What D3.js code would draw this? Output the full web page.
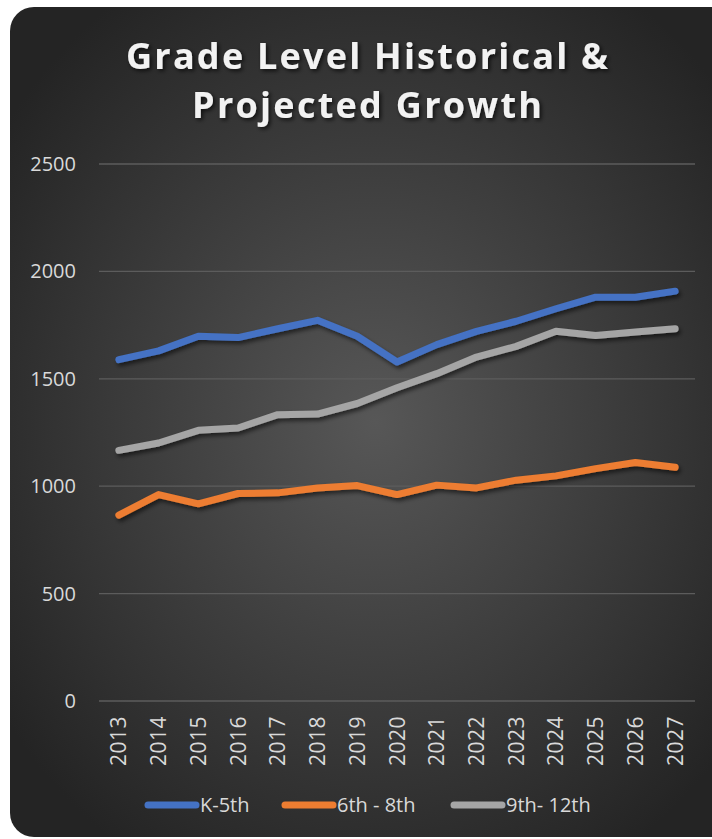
<!DOCTYPE html>
<html>
<head>
<meta charset="utf-8">
<script src="https://cdn.jsdelivr.net/npm/d3@7"></script>
<style>
  body { margin: 0; background: #fff; }
  svg { display: block; }
</style>
</head>
<body>
<div id="chart"></div>
<script>
// data
const years = ["2013","2014","2015","2016","2017","2018","2019","2020","2021","2022","2023","2024","2025","2026","2027"];
const k5    = [1589, 1630, 1698, 1692, 1733, 1772, 1698, 1578, 1659, 1721, 1768, 1826, 1880, 1880, 1908];
const g68   = [865, 961, 918, 966, 969, 992, 1003, 961, 1005, 992, 1028, 1048, 1082, 1110, 1088];
const g912  = [1167, 1201, 1260, 1271, 1333, 1336, 1385, 1458, 1524, 1601, 1651, 1721, 1702, 1718, 1733];
const yTicks = [0, 500, 1000, 1500, 2000, 2500];

const seriesList = [
    { name: "K-5th", values: k5, color: "#4472C4" },
    { name: "6th - 8th", values: g68, color: "#ED7D31" },
    { name: "9th- 12th", values: g912, color: "#A5A5A5" }
];

const W = 712, H = 839;
const margin = { top: 164, right: 17, bottom: 138, left: 99 };

const svg = d3.select("#chart").append("svg")
    .attr("width", W)
    .attr("height", H);

const defs = svg.append("defs");
const grad = defs.append("radialGradient")
    .attr("id", "bg")
    .attr("cx", "50%").attr("cy", "50%").attr("r", "62%");
grad.append("stop").attr("offset", "0%").attr("stop-color", "#575757");
grad.append("stop").attr("offset", "100%").attr("stop-color", "#242424");

const shadow = defs.append("filter").attr("id", "shadow")
    .attr("x", "-10%").attr("y", "-20%").attr("width", "120%").attr("height", "150%");
shadow.append("feDropShadow")
    .attr("dx", 2).attr("dy", 3).attr("stdDeviation", 2)
    .attr("flood-color", "#000").attr("flood-opacity", 0.55);

const tshadow = defs.append("filter").attr("id", "tshadow");
tshadow.append("feDropShadow")
    .attr("dx", 2).attr("dy", 2).attr("stdDeviation", 2)
    .attr("flood-color", "#000").attr("flood-opacity", 0.7);

// panel
svg.append("rect")
    .attr("x", 10).attr("y", 7)
    .attr("width", 730).attr("height", 830)
    .attr("rx", 24).attr("ry", 24)
    .attr("fill", "url(#bg)");

// title
const title = svg.append("text")
    .attr("text-anchor", "middle")
    .style("font-family", "'Open Sans', sans-serif")
    .style("font-weight", "bold")
    .style("font-size", "36px")
    .style("fill", "#f2f2f2")
    .attr("filter", "url(#tshadow)");
title.append("tspan").attr("x", 367).attr("y", 69)
    .attr("textLength", 482).attr("lengthAdjust", "spacing")
    .text("Grade Level Historical &");
title.append("tspan").attr("x", 367).attr("y", 118)
    .attr("textLength", 350).attr("lengthAdjust", "spacing")
    .text("Projected Growth");

const x = d3.scaleBand()
    .domain(years)
    .range([margin.left, W - margin.right]);

const y = d3.scaleLinear()
    .domain([0, 2500])
    .range([H - margin.bottom, margin.top]);

// grid
svg.append("g")
    .selectAll("line")
    .data(yTicks)
    .enter()
    .append("line")
    .attr("x1", margin.left)
    .attr("x2", W - margin.right)
    .attr("y1", d => y(d))
    .attr("y2", d => y(d))
    .attr("stroke", "#5c5c5c")
    .attr("stroke-width", 1.3);

// y axis
const yAxis = svg.append("g")
    .attr("transform", `translate(${margin.left},0)`)
    .call(d3.axisLeft(y).tickValues(yTicks).tickSize(0).tickPadding(23).tickFormat(d3.format("d")));
yAxis.select(".domain").remove();
yAxis.selectAll("text")
    .style("font-family", "'Open Sans', sans-serif")
    .style("font-size", "20px")
    .style("fill", "#d9d9d9");

// x axis
const xAxis = svg.append("g")
    .attr("transform", `translate(0,${y(0)})`)
    .call(d3.axisBottom(x).tickSize(0).tickPadding(0));
xAxis.select(".domain").remove();
xAxis.selectAll("text")
    .attr("transform", "translate(0,15) rotate(-90)")
    .attr("text-anchor", "end")
    .attr("x", 0).attr("y", 0).attr("dy", "0.36em")
    .style("font-family", "'Open Sans', sans-serif")
    .style("font-size", "21px")
    .style("letter-spacing", "0.5px")
    .style("fill", "#d9d9d9");

// lines
const line = d3.line()
    .x((d, i) => x(years[i]) + x.bandwidth() / 2)
    .y(d => y(d));

svg.append("g")
    .attr("filter", "url(#shadow)")
    .selectAll("path")
    .data(seriesList)
    .enter()
    .append("path")
    .attr("d", d => line(d.values))
    .attr("fill", "none")
    .attr("stroke", d => d.color)
    .attr("stroke-width", 7)
    .attr("stroke-linecap", "round")
    .attr("stroke-linejoin", "round");

// legend
const legendX = [145, 282, 451];
const legend = svg.append("g");
legend.selectAll(".legend-item")
    .data(seriesList)
    .enter()
    .append("g")
    .attr("class", "legend-item")
    .attr("transform", (d, i) => `translate(${legendX[i]}, 805)`)
    .each(function(d) {
        let g = d3.select(this);
        g.append("line")
            .attr("x1", 3).attr("x2", 51)
            .attr("y1", 0).attr("y2", 0)
            .attr("stroke", d.color)
            .attr("stroke-width", 7)
            .attr("stroke-linecap", "round");
        g.append("text")
            .attr("x", 55)
            .attr("dy", "0.36em")
            .text(d.name)
            .style("font-family", "'Open Sans', sans-serif")
            .style("font-size", "20px")
            .style("fill", "#d9d9d9");
    });
</script>
</body>
</html>
